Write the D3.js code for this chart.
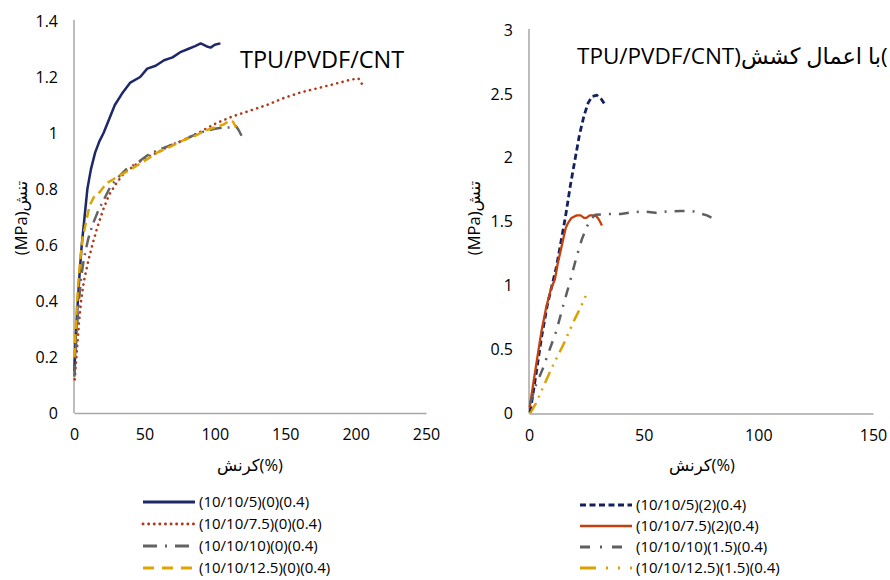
<!DOCTYPE html>
<html><head><meta charset="utf-8">
<script src="https://cdn.jsdelivr.net/npm/d3@7/dist/d3.min.js"></script>
<style>
body{margin:0;background:#fff;}
svg{display:block;}
text{font-family:"Open Sans","DejaVu Sans",sans-serif;fill:#000;}
</style></head><body>
<svg id="c" width="890" height="580"></svg>
<script>
// ---- Left chart data (strain %, stress MPa) ----
const leftXTicks = [0, 50, 100, 150, 200, 250];
const leftYTicks = [0, 0.2, 0.4, 0.6, 0.8, 1, 1.2, 1.4];
const leftNames = ["(10/10/5)(0)(0.4)", "(10/10/7.5)(0)(0.4)", "(10/10/10)(0)(0.4)", "(10/10/12.5)(0)(0.4)"];

const L5_x = [0.3,1,2,3,4,5.5,7.5,9.5,12,15,18,21,25,29,34,40,47,52,58,64,70,76,81,86,90,94,97,100,104];
const L5_y = [0.15,0.25,0.34,0.42,0.5,0.6,0.7,0.8,0.87,0.93,0.97,1.0,1.05,1.1,1.14,1.18,1.2,1.23,1.24,1.26,1.27,1.29,1.30,1.31,1.32,1.31,1.305,1.315,1.32];
const L75_x = [0.5,2,3.5,5,7,10,13,17,21,25,30,36,42,50,59,68,78,90,101,113,125,137,149,161,173,185,196,202,204,206];
const L75_y = [0.12,0.22,0.32,0.4,0.47,0.54,0.6,0.67,0.73,0.78,0.82,0.86,0.88,0.91,0.93,0.955,0.975,1.005,1.035,1.06,1.08,1.10,1.125,1.145,1.16,1.175,1.19,1.195,1.18,1.16];
const L10_x = [0.3,1,2,3.5,5,7,10,13,17,21,26,31,37,44,52,60,68,76,84,92,100,106,112,115,117,119];
const L10_y = [0.13,0.2,0.3,0.4,0.48,0.55,0.62,0.67,0.72,0.76,0.81,0.84,0.87,0.89,0.92,0.94,0.955,0.97,0.99,1.005,1.015,1.02,1.02,1.025,1.01,0.99];
const L125_x = [0.3,1,2,3,4.5,6,8.5,11,14,18.5,23,28,35,42,50,59,68,78,86,94,100,106,111,113,115];
const L125_y = [0.2,0.28,0.38,0.46,0.55,0.62,0.68,0.74,0.77,0.79,0.82,0.835,0.855,0.875,0.9,0.93,0.95,0.975,0.99,1.01,1.02,1.03,1.045,1.04,1.02];

// ---- Right chart data ----
const rightXTicks = [0, 50, 100, 150];
const rightYTicks = [0, 0.5, 1, 1.5, 2, 2.5, 3];
const rightNames = ["(10/10/5)(2)(0.4)", "(10/10/7.5)(2)(0.4)", "(10/10/10)(1.5)(0.4)", "(10/10/12.5)(1.5)(0.4)"];

const R5_x = [0.5,3,5.5,8,10,12,14,16,18,20,22,24,25.8,27.5,29.6,31.5,33];
const R5_y = [0.01,0.3,0.6,0.85,1.0,1.15,1.35,1.55,1.78,1.98,2.18,2.33,2.43,2.48,2.49,2.46,2.42];
const R75_x = [0.3,2,4,5.5,7.5,9.5,11.3,12.5,13.5,15,16,17,18.5,20.8,22.5,24,25,26.5,27.5,29,30,31,31.8];
const R75_y = [0.05,0.25,0.48,0.65,0.83,0.97,1.05,1.17,1.25,1.37,1.45,1.49,1.53,1.55,1.55,1.53,1.53,1.55,1.55,1.55,1.53,1.5,1.47];
const R10_x = [0.5,3,6,9,12,15,18,20.8,23,25.2,27,29,33.9,40,45,50,55,60,66,72,77.6,82];
const R10_y = [0.08,0.22,0.35,0.5,0.65,0.85,1.04,1.23,1.36,1.46,1.52,1.555,1.56,1.56,1.575,1.58,1.57,1.58,1.585,1.58,1.55,1.51];
const R125_x = [0.5,3,5,7.5,10,12.5,15,17.5,20,22.5,25];
const R125_y = [0.0,0.08,0.16,0.26,0.36,0.45,0.54,0.64,0.74,0.83,0.93];

const zip = (xs, ys) => xs.map((x, i) => [x, ys[i]]);

const svg = d3.select("#c");
const axisColor = "#a6a6a6";
const tickFont = 16;

function drawPanel(o) {
  const x = d3.scaleLinear().domain(o.xDomain).range(o.xRange);
  const y = d3.scaleLinear().domain(o.yDomain).range(o.yRange);
  const gx = svg.append("g").attr("transform", `translate(0,${o.yRange[0]})`)
    .call(d3.axisBottom(x).tickValues(o.xTicks).tickSize(0).tickSizeOuter(0).tickPadding(16).tickFormat(d3.format("")));
  const gy = svg.append("g").attr("transform", `translate(${o.xRange[0]},0)`)
    .call(d3.axisLeft(y).tickValues(o.yTicks).tickSize(0).tickSizeOuter(0).tickPadding(o.yPad).tickFormat(d => String(d)));
  [gx, gy].forEach(g => {
    g.select(".domain").attr("stroke", axisColor).attr("stroke-width", 1.5);
    g.selectAll("text").style("font-size", tickFont + "px").style("font-family", "'Open Sans',sans-serif").attr("fill", "#111");
  });
  gy.select(".domain").attr("d", `M0,${o.yRange[0]}V${o.yAxisTop}`);
  const line = d3.line().x(d => x(d[0])).y(d => y(d[1]));
  o.series.forEach(s => {
    svg.append("path").datum(s.data).attr("d", line).attr("fill", "none")
      .attr("stroke", s.color).attr("stroke-width", s.width)
      .attr("stroke-dasharray", s.dash).attr("stroke-linecap", s.cap || "butt")
      .attr("stroke-linejoin", "round");
  });
  // legend
  o.series.forEach((s, i) => {
    const ly = o.legendY[i];
    svg.append("line").attr("x1", o.legendX[0]).attr("x2", o.legendX[1]).attr("y1", ly).attr("y2", ly)
      .attr("stroke", s.color).attr("stroke-width", s.width + 0.3).attr("stroke-dasharray", s.legDash || s.dash)
      .attr("stroke-linecap", s.cap || "butt");
    svg.append("text").attr("x", o.legendX[1] + 4).attr("y", ly).attr("dy", "0.35em")
      .style("font-size", "15px").text(o.names[i]);
  });
  return {x, y};
}

// Left panel
drawPanel({
  xDomain: [0, 250], xRange: [74, 426], yDomain: [0, 1.4], yRange: [413, 21], yAxisTop: 20, yPad: 16,
  xTicks: leftXTicks, yTicks: leftYTicks, names: leftNames,
  legendX: [143, 195], legendY: [502, 524, 546, 568],
  series: [
    {data: zip(L5_x, L5_y), color: "#1c2868", width: 2.5, dash: null},
    {data: zip(L75_x, L75_y), color: "#b0391a", width: 2.6, dash: "0.1 5.5", cap: "round", legDash: "0.1 5.5"},
    {data: zip(L10_x, L10_y), color: "#646464", width: 2.5, dash: "12 6 2 6", legDash: "14 8 2 8"},
    {data: zip(L125_x, L125_y), color: "#e0a400", width: 2.5, dash: "9 5", legDash: "11 8"}
  ]
});

// Right panel
drawPanel({
  xDomain: [0, 150], xRange: [529, 873], yDomain: [0, 3], yRange: [413.5, 30], yAxisTop: 29, yPad: 16,
  xTicks: rightXTicks, yTicks: rightYTicks, names: rightNames,
  legendX: [580, 632], legendY: [505, 526, 547, 568],
  series: [
    {data: zip(R5_x, R5_y), color: "#13225e", width: 2.8, dash: "6 3.5", legDash: "6 3.5"},
    {data: zip(R75_x, R75_y), color: "#c4410f", width: 2.3, dash: null},
    {data: zip(R10_x, R10_y), color: "#5f5f5f", width: 2.5, dash: "10 8 2 8", legDash: "10 10 2 10"},
    {data: zip(R125_x, R125_y), color: "#dca100", width: 2.5, dash: "12 6 2 6 2 6", legDash: "16 10 2 10 2 10"}
  ]
});

// Titles
svg.append("text").attr("x", 240).attr("y", 68).style("font-size", "23.5px").text("TPU/PVDF/CNT");
svg.append("text").attr("x", 577).attr("y", 64).style("font-size", "22.5px")
  .text("TPU/PVDF/CNT)\u0628\u0627 \u0627\u0639\u0645\u0627\u0644 \u06A9\u0634\u0634(");

// Axis titles
svg.append("text").attr("x", 250).attr("y", 471).attr("text-anchor", "middle").style("font-size", "16.5px").text("\u06A9\u0631\u0646\u0634(%)");
svg.append("text").attr("x", 702).attr("y", 471).attr("text-anchor", "middle").style("font-size", "16.5px").text("\u06A9\u0631\u0646\u0634(%)");
svg.append("text").attr("transform", "translate(27,218) rotate(-90)").attr("text-anchor", "middle").style("font-size", "16.5px").text("(MPa)\u062A\u0646\u0634");
svg.append("text").attr("transform", "translate(480,218) rotate(-90)").attr("text-anchor", "middle").style("font-size", "16.5px").text("(MPa)\u062A\u0646\u0634");
</script></body></html>
